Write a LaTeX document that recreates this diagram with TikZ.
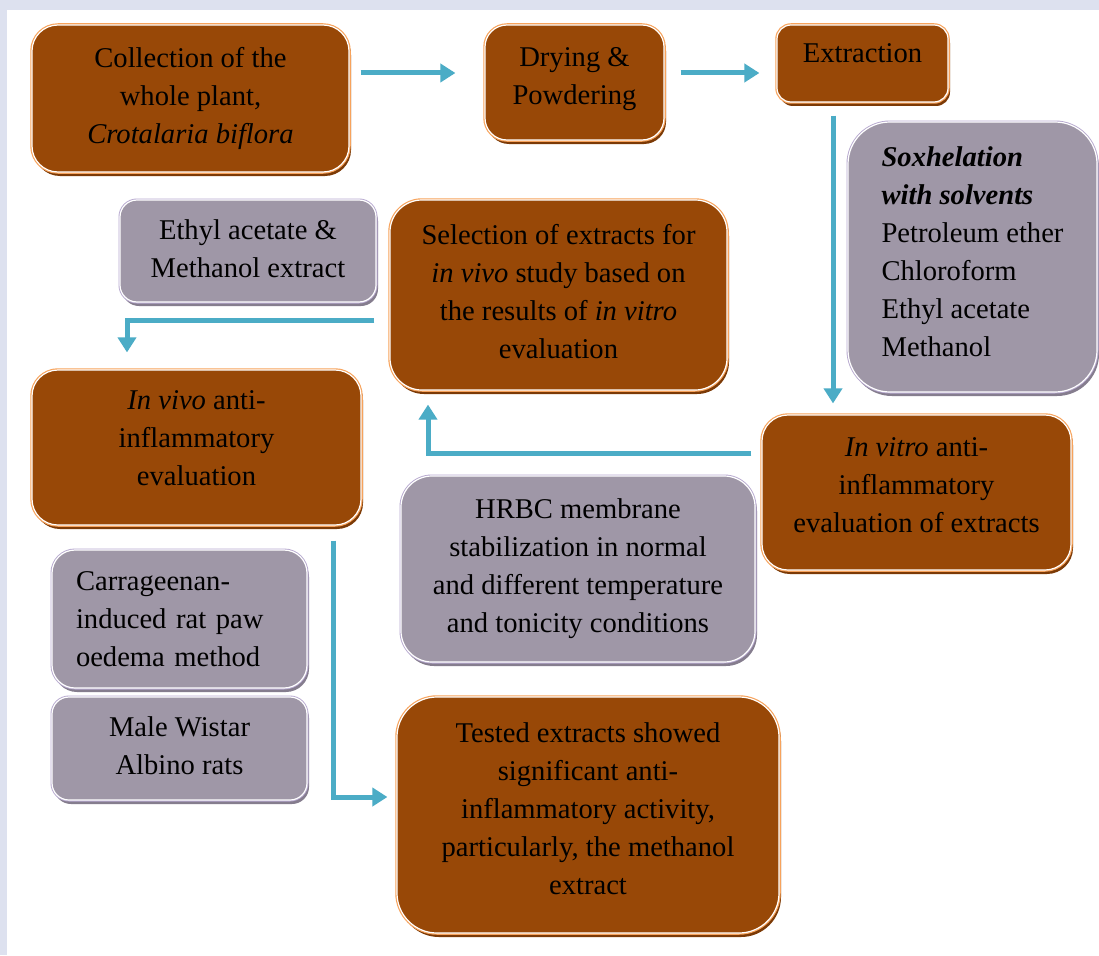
\documentclass[tikz,border=0pt]{standalone}
\usepackage{fontspec}
\setmainfont{Liberation Serif}
\usetikzlibrary{arrows.meta,shadows}

\definecolor{boxbrown}{HTML}{984807}
\definecolor{boxbrownshade}{HTML}{7C3A06}
\definecolor{boxorange}{HTML}{F7A35C}
\definecolor{boxgrey}{HTML}{9F97A7}
\definecolor{boxgreyshade}{HTML}{857D8E}
\definecolor{boxlilac}{HTML}{B7A9CF}
\definecolor{arrowblue}{HTML}{4BACC6}
\definecolor{pageband}{HTML}{DDE1EF}

\tikzset{% one unit = one pixel of the page
  stage/.style ={rectangle, rounded corners=22pt, align=center, inner sep=0pt,
    font=\fontsize{28.6}{38}\selectfont},
  brownbox/.style={stage,
    general shadow={fill=boxbrownshade, shadow xshift=2pt, shadow yshift=-4pt},
    preaction={draw=boxorange, line width=3.5pt},
    fill=boxbrown, draw=white, line width=1.2pt},
  greybox/.style={stage,
    general shadow={fill=boxgreyshade, shadow xshift=2pt, shadow yshift=-4pt},
    preaction={draw=boxlilac, line width=3pt},
    fill=boxgrey, draw=white, line width=1.2pt},
  flow/.style={draw=arrowblue, line width=5pt, -{Triangle[width=18pt,length=15pt]}}
}

\begin{document}
\begin{tikzpicture}[x=1pt, y=-1pt]
  \fill[pageband] (0,0) rectangle (1099,955);
  \fill[white] (7,10) rectangle (1099,955);

  \node[brownbox, minimum width=317pt, minimum height=147pt, text depth=6pt, rounded corners=26pt] (coll) at (190.5, 98.5) {Collection of the\\whole plant,\\\textit{Crotalaria biflora}};
  \node[brownbox, minimum width=179pt, minimum height=115pt, text depth=14pt] (dry) at (574.5, 82.5) {Drying \&\\Powdering};
  \node[brownbox, minimum width=171pt, minimum height=77pt, text depth=20pt, rounded corners=14pt] (ext) at (862.5, 63.5) {Extraction};
  \node[greybox, minimum width=249pt, minimum height=270pt, align=left, text depth=10pt, rounded corners=42pt] (sox) at (972.5, 257) {\textbf{\textit{Soxhelation}}\\\textbf{\textit{with solvents}}\\Petroleum ether\\Chloroform\\Ethyl acetate\\Methanol};
  \node[greybox, minimum width=256pt, minimum height=102pt, text depth=4pt, rounded corners=17pt] (ethyl) at (248, 251) {Ethyl acetate \&\\Methanol extract};
  \node[brownbox, minimum width=337pt, minimum height=190pt, text depth=8pt, rounded corners=32pt] (sel) at (558.5, 295) {Selection of extracts for\\\textit{in vivo} study based on\\the results of \textit{in vitro}\\evaluation};
  \node[brownbox, minimum width=329pt, minimum height=155pt, text depth=18pt, rounded corners=26pt] (vivo) at (196.5, 447.5) {\textit{In vivo} anti-\\inflammatory\\evaluation};
  \node[brownbox, minimum width=309pt, minimum height=155pt, text depth=14pt, rounded corners=26pt] (vitro) at (916.5, 492.5) {\textit{In vitro} anti-\\inflammatory\\evaluation of extracts};
  \node[greybox, minimum width=354pt, minimum height=186pt, text depth=6pt, rounded corners=31pt] (hrbc) at (578, 569) {HRBC membrane\\stabilization in normal\\and different temperature\\and tonicity conditions};
  \node[greybox, minimum width=255pt, minimum height=138pt, text width=207pt, align=left, rounded corners=23pt] (carr) at (179.5, 619) {Carrageenan-\\induced rat paw\\oedema method};
  \node[greybox, minimum width=255pt, minimum height=103pt, text depth=5pt, rounded corners=17pt] (rats) at (179.5, 748.5) {Male Wistar\\Albino rats};
  \node[brownbox, minimum width=382pt, minimum height=236pt, text depth=12pt, rounded corners=40pt] (tested) at (588, 815) {Tested extracts showed\\significant anti-\\inflammatory activity,\\particularly, the methanol\\extract};

  \draw[flow] ([xshift=11pt,yshift=25.5pt]coll.east) -- ([xshift=-29pt,yshift=9.5pt]dry.west);
  \draw[flow] ([xshift=16pt,yshift=9.5pt]dry.east) -- ([xshift=-17pt,yshift=-9.5pt]ext.west);
  \draw[flow] ([xshift=-29.5pt,yshift=-13pt]ext.south) -- ([xshift=-83.5pt,yshift=11pt]vitro.north);
  \draw[flow] ([xshift=-10pt,yshift=39.5pt]vitro.west) -| ([xshift=-130.5pt,yshift=-14pt]sel.south);
  \draw[flow] ([xshift=-15pt,yshift=-25pt]sel.west) -| ([xshift=-69.5pt,yshift=17pt]vivo.north);
  \draw[flow] ([xshift=136.5pt,yshift=-15pt]vivo.south) |- ([xshift=-9pt,yshift=18pt]tested.west);
\end{tikzpicture}
\end{document}
